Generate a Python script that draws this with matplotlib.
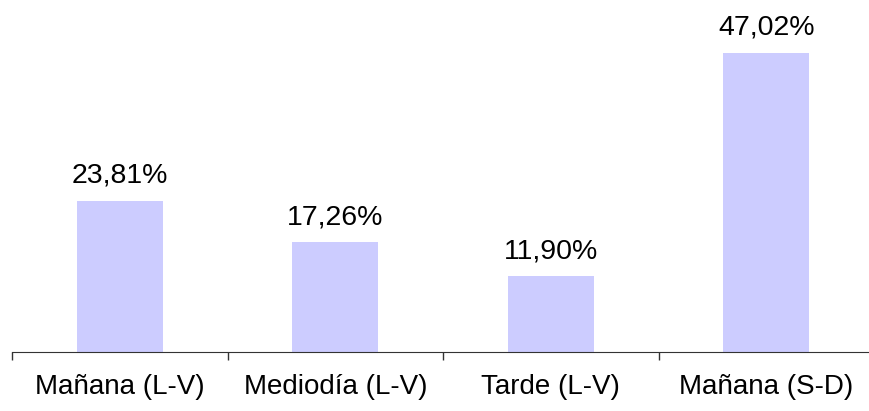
import numpy as np
import matplotlib.pyplot as plt

categories = ['Mañana (L-V)', 'Mediodía (L-V)', 'Tarde (L-V)', 'Mañana (S-D)']
values = [23.81, 17.26, 11.90, 47.02]
labels = ['23,81%', '17,26%', '11,90%', '47,02%']

plt.rcParams['font.family'] = ['Liberation Sans', 'DejaVu Sans']

fig = plt.figure(figsize=(8.69, 4.11), dpi=100)
ax = fig.add_axes([12/869, 59/411, 862/869, 318/411])

x = np.arange(len(categories))
ax.bar(x, values, width=0.4, color='#CCCCFF')
for xi, v, lab in zip(x, values, labels):
    ax.text(xi, v + 1.9, lab, ha='center', va='bottom', fontsize=20.5, color='black')

ax.set_xlim(-0.5, 3.5)
ax.set_ylim(0, 50)
ax.set_xticks(np.arange(-0.5, 4, 1))
ax.set_xticklabels([])
ax.set_xticks(x, minor=True)
ax.set_xticklabels(categories, minor=True, fontsize=20)
ax.tick_params(axis='x', which='major', length=6, width=1, color='#333333')
ax.tick_params(axis='x', which='minor', length=0, pad=15.5)
ax.set_yticks([])
for s in ['top', 'right', 'left']:
    ax.spines[s].set_visible(False)
ax.spines['bottom'].set_color('#333333')

fig.savefig('out.png', dpi=100)
